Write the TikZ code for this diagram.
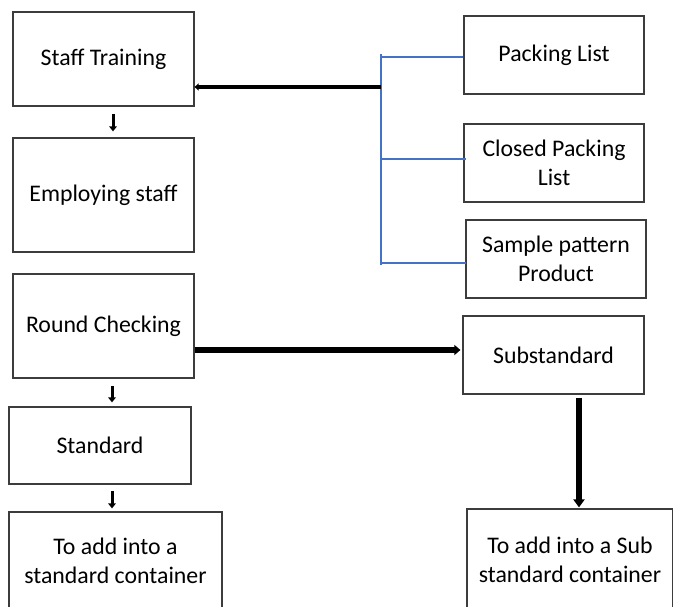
\documentclass[tikz,border=0pt]{standalone}
\usepackage{fontspec}
\setmainfont{Carlito}
\usetikzlibrary{arrows.meta,calc}
\definecolor{linkblue}{RGB}{68,114,196}
\definecolor{boxline}{RGB}{60,60,60}
\begin{document}
\begin{tikzpicture}[x=1pt,y=-1pt,
  box/.style={draw=boxline, line width=1.2pt, rectangle, inner sep=0pt,
    align=center, font=\fontsize{23.8}{28.6}\selectfont},
  blueline/.style={draw=linkblue, line width=1.5pt},
  smallarrow/.style={line width=3pt, -{Triangle[width=7.5pt,length=5pt]}},
  thickleft/.style={line width=4.5pt, -{Triangle[width=7pt,length=4pt]}},
  thickright/.style={line width=5.5pt, -{Triangle[width=10pt,length=6pt]}},
  thickdown/.style={line width=6pt, -{Triangle[width=11pt,length=8pt]}}
]
\clip (0,0) rectangle (673,607);

% left column
\node[box, minimum width=181pt, minimum height=94pt]  (st) at (103.5,59)  {Staff Training};
\node[box, minimum width=181pt, minimum height=114pt] (es) at (103.5,195) {Employing staff};
\node[box, minimum width=181pt, minimum height=104pt] (rc) at (103.5,326) {Round Checking};
\node[box, minimum width=182pt, minimum height=77pt]  (sd) at (100,445.5) {Standard};
\node[box, minimum width=213pt, minimum height=98pt]  (bl) at (115.5,561) {To add into a\\standard container};

% right column
\node[box, minimum width=180pt, minimum height=78pt] (pl)  at (554,55)    {Packing List};
\node[box, minimum width=180pt, minimum height=78pt] (cp)  at (554,163)   {Closed Packing\\List};
\node[box, minimum width=180pt, minimum height=78pt] (sp)  at (556,259)   {Sample pattern\\Product};
\node[box, minimum width=181pt, minimum height=78pt] (sub) at (553.5,355) {Substandard};
\node[box, minimum width=206pt, minimum height=102pt] (br) at (570,560)   {To add into a Sub\\standard container};

% blue bracket joining the three documents
\coordinate (bus) at (381,87);
\coordinate (bustop) at (381,54);
\coordinate (busbot) at (381,265);
\draw[blueline] (bustop) -- (busbot);
\coordinate (b1) at ($(pl.west)+(0,2)$);
\coordinate (b2) at ($(cp.west)+(3,-4)$);
\coordinate (b3) at ($(sp.west)+(1,4)$);
\draw[blueline] (b1 -| bus) -- (b1);
\draw[blueline] (b2 -| bus) -- (b2);
\draw[blueline] (b3 -| bus) -- (b3);

% flow arrows
\draw[thickleft] (bus) -- (bus -| st.east);

\coordinate (a1) at ($(st.south)+(9.5,7)$);
\draw[smallarrow, shorten >=6pt] (a1) -- (a1 |- es.north);

\coordinate (a2) at ($(rc.south)+(8.5,7)$);
\draw[smallarrow, shorten >=4pt] (a2) -- (a2 |- sd.north);

\coordinate (a3) at ($(sd.south)+(12,6)$);
\draw[smallarrow, shorten >=3pt] (a3) -- (a3 |- bl.north);

\coordinate (r1) at ($(rc.east)+(0,24)$);
\draw[thickright, shorten >=2pt] (r1) -- (r1 -| sub.west);

\coordinate (d1) at ($(sub.south)+(25.5,3)$);
\draw[thickdown, shorten >=1pt] (d1) -- (d1 |- br.north);
\end{tikzpicture}
\end{document}
